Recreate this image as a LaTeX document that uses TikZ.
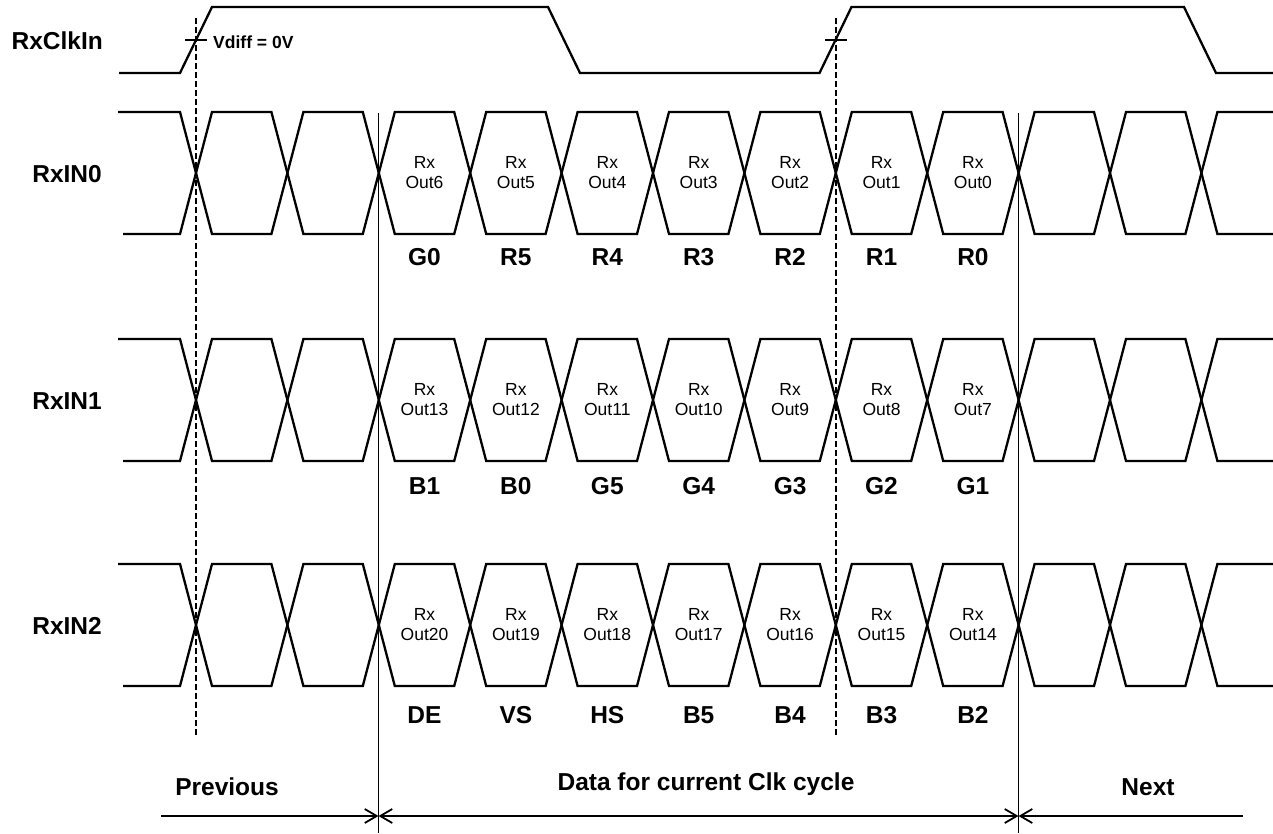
\documentclass[tikz,border=0pt]{standalone}
\usepackage{fontspec}
\setmainfont{Liberation Sans}
\usetikzlibrary{arrows.meta}
\begin{document}
\begin{tikzpicture}[x=1pt,y=-1pt,
  wave/.style={line width=2.3pt, line join=miter},
  guide/.style={line width=1pt},
  dashguide/.style={line width=2pt, dash pattern=on 6pt off 3pt},
  big/.style={font=\fontsize{24.5}{28}\selectfont\bfseries, inner sep=0pt},
  small/.style={font=\fontsize{17.5}{20}\selectfont\bfseries, inner sep=0pt},
  eyetxt/.style={font=\fontsize{17.5}{20}\selectfont, inner sep=0pt, align=center},
  barb/.tip={Straight Barb[length=12pt,width=14pt,line width=1.8pt]},
  dim/.style={line width=2.3pt}
]
\useasboundingbox (0,0) rectangle (1273,833);

% clock
\draw[wave] (119,73) -- (180,73) -- (212,7) -- (548,7) -- (580,73) -- (819.5,73)
  -- (851.5,7) -- (1184,7) -- (1216,73) -- (1273,73);
\draw[line width=1.8pt] (185,40) -- (207,40);
\draw[line width=1.8pt] (825,40) -- (847,40);
\node[small, anchor=base west] (vdiff) at (213,48) {Vdiff = 0V};
\node[big, anchor=base east] (lclk) at (103,49) {RxClkIn};

% data rows
\foreach \r/\yc in {0/173,1/400,2/625}{
  \draw[wave] (118,{\yc-61})
    \foreach \k in {0,...,11}{
      -- ({196+91.4*\k-16},{\yc-61*(1-2*mod(\k,2))})
      -- ({196+91.4*\k+16},{\yc+61*(1-2*mod(\k,2))})
    } -- (1273,{\yc-61});
  \draw[wave] (123,{\yc+61})
    \foreach \k in {0,...,11}{
      -- ({196+91.4*\k-16},{\yc+61*(1-2*mod(\k,2))})
      -- ({196+91.4*\k+16},{\yc-61*(1-2*mod(\k,2))})
    } -- (1273,{\yc+61});
}
\node[big, anchor=base east] (l0) at (102,182) {RxIN0};
\node[big, anchor=base east] (l1) at (102,409) {RxIN1};
\node[big, anchor=base east] (l2) at (102,634) {RxIN2};

% eye texts and bit names
\foreach \k/\o/\b in {2/6/G0,3/5/R5,4/4/R4,5/3/R3,6/2/R2,7/1/R1,8/0/R0}{
  \node[eyetxt] (o0\k) at ({196+91.4*(\k+0.5)},173) {Rx\\Out\o};
  \node[big, anchor=base] (b0\k) at ({196+91.4*(\k+0.5)},265) {\b};
}
\foreach \k/\o/\b in {2/13/B1,3/12/B0,4/11/G5,5/10/G4,6/9/G3,7/8/G2,8/7/G1}{
  \node[eyetxt] (o1\k) at ({196+91.4*(\k+0.5)},400) {Rx\\Out\o};
  \node[big, anchor=base] (b1\k) at ({196+91.4*(\k+0.5)},494) {\b};
}
\foreach \k/\o/\b in {2/20/DE,3/19/VS,4/18/HS,5/17/B5,6/16/B4,7/15/B3,8/14/B2}{
  \node[eyetxt] (o2\k) at ({196+91.4*(\k+0.5)},625) {Rx\\Out\o};
  \node[big, anchor=base] (b2\k) at ({196+91.4*(\k+0.5)},723) {\b};
}

% guides
\draw[dashguide] (196,18) -- (196,737);
\draw[dashguide] (836,18) -- (836,737);
\draw[guide] (378.5,113) -- (378.5,833);
\draw[guide] (1018.5,113) -- (1018.5,833);

% bottom dimension arrows
\coordinate (pl) at (161,816);
\coordinate (vl) at (378.5,816);
\coordinate (vr) at (1018.5,816);
\coordinate (nr) at (1243,816);
\draw[dim, -barb] (pl) -- (vl);
\draw[dim, barb-barb] (vl) -- (vr);
\draw[dim, -barb] (nr) -- (vr);
\node[big, anchor=base] (prev) at (227,795) {Previous};
\node[big, anchor=base] (cur) at (706,790) {Data for current Clk cycle};
\node[big, anchor=base] (next) at (1148,795) {Next};
\end{tikzpicture}
\end{document}
